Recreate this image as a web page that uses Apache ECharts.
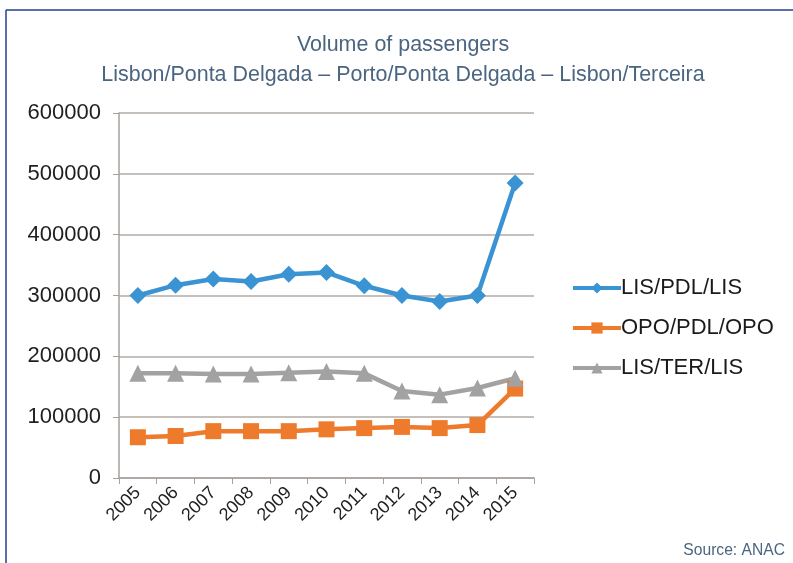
<!DOCTYPE html>
<html>
<head>
<meta charset="utf-8">
<script src="https://cdn.jsdelivr.net/npm/echarts@6/dist/echarts.min.js"></script>
<style>
  html, body { margin: 0; padding: 0; background: #fff; }
  #chart { width: 793px; height: 563px; }
</style>
</head>
<body>
<div id="chart"></div>
<script>
  var years = ['2005', '2006', '2007', '2008', '2009', '2010', '2011', '2012', '2013', '2014', '2015'];
  var lisPdl = [300000, 317000, 327000, 323000, 335000, 338000, 316000, 300000, 290000, 300000, 485000];
  var opoPdl = [67000, 69000, 77000, 77000, 77000, 80000, 82000, 84000, 82000, 87000, 147000];
  var lisTer = [172000, 172000, 171000, 171000, 173000, 175000, 172000, 143000, 137000, 148000, 164000];
  var yTicks = [0, 100000, 200000, 300000, 400000, 500000, 600000];

  var frameColor = '#24408e';
  var titleColor = '#4b6580';
  var plain = 'Arial, "Liberation Sans", sans-serif';

  var myChart = echarts.init(document.getElementById('chart'));
  myChart.setOption({
    animation: false,
    graphic: [
      {type: 'line', shape: {x1: 6, y1: 10, x2: 793, y2: 10}, style: {stroke: frameColor, lineWidth: 1.5}},
      {type: 'line', shape: {x1: 6, y1: 10, x2: 6, y2: 563}, style: {stroke: frameColor, lineWidth: 1.5}},
      {
        type: 'text', x: 403, y: 45, scaleX: 0.975,
        style: {text: 'Volume of passengers', fill: titleColor, font: '22px ' + plain, align: 'center', verticalAlign: 'middle'}
      },
      {
        type: 'text', x: 403, y: 75, scaleX: 0.975,
        style: {text: 'Lisbon/Ponta Delgada \u2013 Porto/Ponta Delgada \u2013 Lisbon/Terceira', fill: titleColor, font: '22px ' + plain, align: 'center', verticalAlign: 'middle'}
      },
      {
        type: 'text', x: 785, y: 550, scaleX: 0.92,
        style: {text: 'Source: ANAC', fill: titleColor, font: '17px ' + plain, align: 'right', verticalAlign: 'middle'}
      }
    ],
    legend: {
      orient: 'vertical',
      left: 566,
      top: 272,
      itemWidth: 48,
      itemHeight: 14,
      itemGap: 18,
      lineStyle: {width: 4},
      data: ['LIS/PDL/LIS', 'OPO/PDL/OPO', 'LIS/TER/LIS'],
      textStyle: {color: '#1a1a1a', fontSize: 22, fontFamily: plain, padding: [0, 0, 0, -5]}
    },
    grid: {left: 119, right: 259, top: 113, bottom: 85},
    xAxis: {
      type: 'category',
      data: years,
      boundaryGap: true,
      axisLine: {lineStyle: {color: '#a9a09c', width: 1.5}},
      axisTick: {show: true, length: 6, lineStyle: {color: '#a9a09c'}},
      axisLabel: {
        rotate: 45,
        margin: 12,
        color: '#1f1f1f',
        fontSize: 18,
        fontFamily: plain
      }
    },
    yAxis: {
      type: 'value',
      min: yTicks[0],
      max: yTicks[yTicks.length - 1],
      interval: 100000,
      axisLine: {show: true, lineStyle: {color: '#a9a09c', width: 1.5}},
      axisTick: {show: true, length: 6, lineStyle: {color: '#a9a09c'}},
      axisLabel: {
        margin: 18,
        color: '#1f1f1f',
        fontSize: 22,
        fontFamily: plain,
        formatter: function (v) { return String(v); }
      },
      splitLine: {lineStyle: {color: '#b3aba7', width: 1.5}}
    },
    series: [
      {
        name: 'LIS/PDL/LIS',
        type: 'line',
        data: lisPdl,
        symbol: 'diamond',
        symbolSize: 17,
        itemStyle: {color: '#3a93d3'},
        lineStyle: {width: 4.5, color: '#3a93d3'}
      },
      {
        name: 'OPO/PDL/OPO',
        type: 'line',
        data: opoPdl,
        symbol: 'rect',
        symbolSize: 16,
        itemStyle: {color: '#ee7a2c'},
        lineStyle: {width: 4.5, color: '#ee7a2c'}
      },
      {
        name: 'LIS/TER/LIS',
        type: 'line',
        data: lisTer,
        symbol: 'triangle',
        symbolSize: 17,
        itemStyle: {color: '#a2a2a2'},
        lineStyle: {width: 4.5, color: '#a2a2a2'}
      }
    ]
  });
</script>
</body>
</html>
